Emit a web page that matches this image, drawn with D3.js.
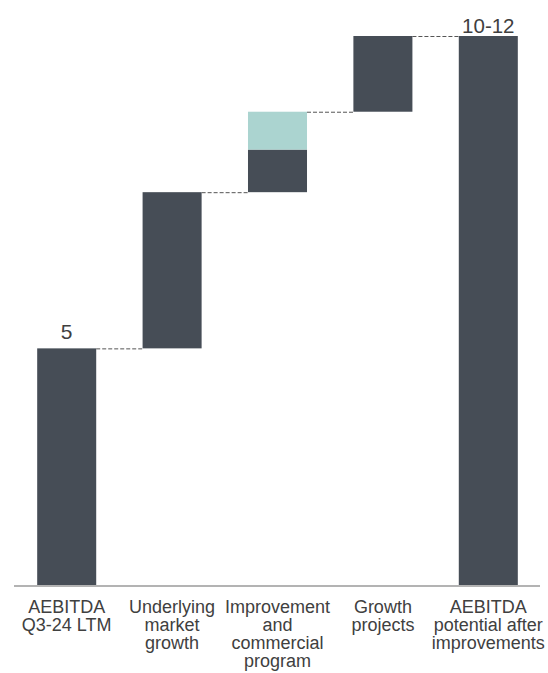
<!DOCTYPE html>
<html>
<head>
<meta charset="utf-8">
<script src="https://cdn.jsdelivr.net/npm/d3@7"></script>
<style>
  html, body { margin: 0; padding: 0; background: #fff; }
  svg { display: block; font-family: "Liberation Sans", Arial, sans-serif; }
</style>
</head>
<body>
<svg id="chart" width="548" height="673"></svg>
<script>
// Waterfall steps (EBITDA bridge)
const categories = [
  ["AEBITDA", "Q3-24 LTM"],
  ["Underlying", "market", "growth"],
  ["Improvement", "and", "commercial", "program"],
  ["Growth", "projects"],
  ["AEBITDA", "potential after", "improvements"]
];
const kinds = ["total", "delta", "delta", "delta", "total"];
// dark part of each step, plus an optional upside segment (teal)
const baseValues = [5, 3.3, 0.9, 1.6, 11.6];
const upsideValues = [0, 0, 0.8, 0, 0];
const valueLabels = ["5", "", "", "", "10-12"];

const svg = d3.select("#chart");

const x = d3.scaleBand()
  .domain(d3.range(categories.length))
  .range([14, 541])
  .paddingInner(0.44)
  .paddingOuter(0.22);

const yMax = d3.sum(baseValues.slice(0, 4)) + d3.sum(upsideValues);
const y = d3.scaleLinear().domain([0, yMax]).range([585, 36]);

// build segments
let running = 0;
const steps = categories.map((c, i) => {
  const start = kinds[i] === "total" ? 0 : running;
  const end = start + baseValues[i];
  const upEnd = end + upsideValues[i];
  running = upEnd;
  return { i, start, end, upEnd };
});

const darkColor = "#464d56";
const tealColor = "#abd4d0";

// connectors
const conn = svg.append("g");
steps.slice(0, -1).forEach((s, k) => {
  const lvl = s.upEnd;
  conn.append("line")
    .attr("x1", x(k) + x.bandwidth())
    .attr("x2", x(k + 1))
    .attr("y1", y(lvl) + 0.5)
    .attr("y2", y(lvl) + 0.5)
    .attr("stroke", "#555")
    .attr("stroke-width", 1)
    .attr("stroke-dasharray", "4,2");
});

// dark bars
svg.append("g").selectAll("rect")
  .data(steps).join("rect")
  .attr("x", d => x(d.i))
  .attr("width", x.bandwidth())
  .attr("y", d => y(d.end))
  .attr("height", d => y(d.start) - y(d.end))
  .attr("fill", darkColor);

// upside segments
svg.append("g").selectAll("rect")
  .data(steps.filter(d => d.upEnd > d.end)).join("rect")
  .attr("x", d => x(d.i))
  .attr("width", x.bandwidth())
  .attr("y", d => y(d.upEnd))
  .attr("height", d => y(d.end) - y(d.upEnd))
  .attr("fill", tealColor);

// value labels
svg.append("g").selectAll("text")
  .data(steps.filter(d => valueLabels[d.i])).join("text")
  .attr("x", d => x(d.i) + x.bandwidth() / 2)
  .attr("y", d => y(d.upEnd) - (d.i === 0 ? 9.5 : 3.5))
  .attr("text-anchor", "middle")
  .attr("font-size", d => d.i === 0 ? 21 : 20.5)
  .attr("fill", "#3f3f3f")
  .text(d => valueLabels[d.i]);

// baseline axis
const axis = d3.axisBottom(x).tickSize(0).tickFormat(() => "");
const ax = svg.append("g").attr("transform", "translate(0,586)").call(axis);
ax.select(".domain").attr("stroke", "#9a9a9a").attr("stroke-width", 1.5)
  .attr("d", "M14,0H540");

// category labels
const lab = svg.append("g");
categories.forEach((lines, i) => {
  const cx = x(i) + x.bandwidth() / 2;
  const t = lab.append("text")
    .attr("x", cx)
    .attr("y", 612.5)
    .attr("text-anchor", "middle")
    .attr("font-size", 18)
    .attr("fill", "#404040");
  lines.forEach((ln, j) => {
    t.append("tspan")
      .attr("x", cx)
      .attr("dy", j === 0 ? 0 : 18.2)
      .text(ln);
  });
});
</script>
</body>
</html>
